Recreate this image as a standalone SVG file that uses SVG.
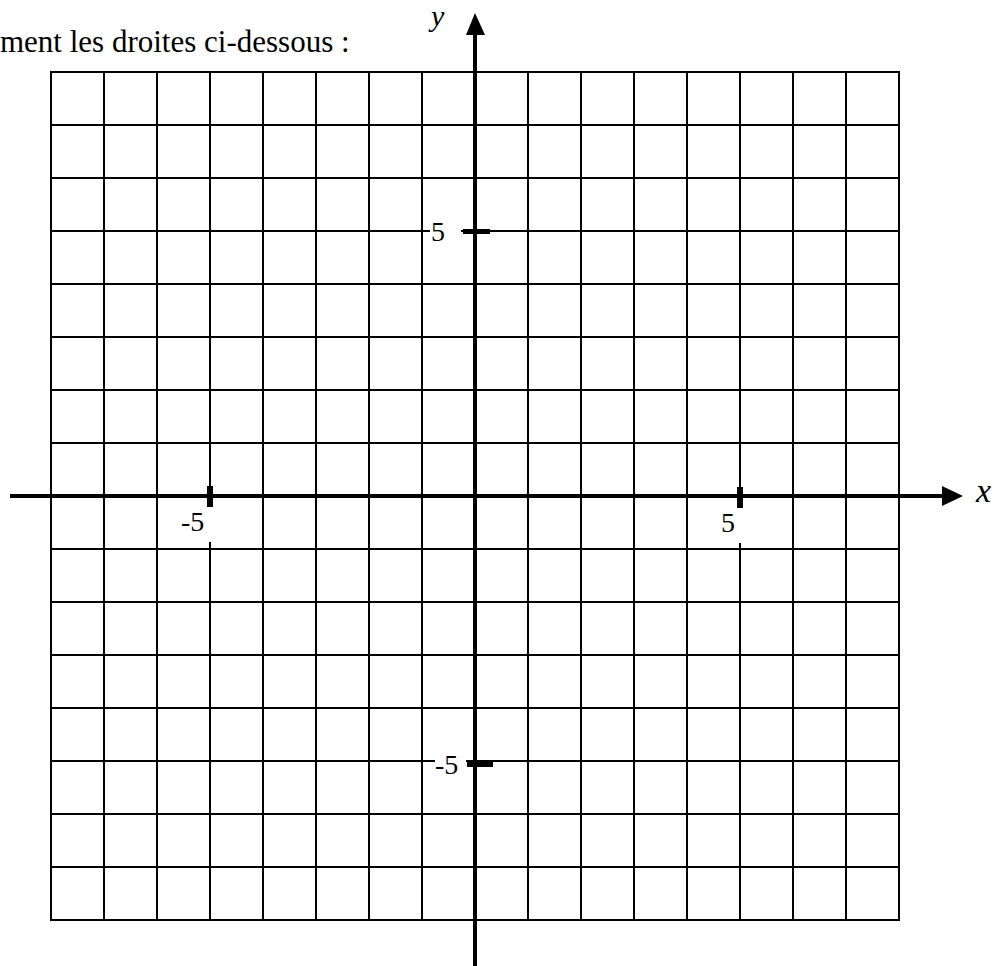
<svg xmlns="http://www.w3.org/2000/svg" width="997" height="966" viewBox="0 0 997 966">
<style>
.grid line{stroke:#000;stroke-width:2}
.axis{stroke:#000;stroke-width:4}
.tick{fill:#000}
.lbl{font-family:"Liberation Serif","Times New Roman",serif;font-size:28px;fill:#000}
.var{font-family:"Liberation Serif","Times New Roman",serif;font-style:italic;fill:#000}
.mask{fill:#fff}
</style>
<rect width="997" height="966" fill="#fff"/>
<text id="title" x="0" y="52" font-family="Liberation Serif, Times New Roman, serif" font-size="31">ment les droites ci-dessous :</text>
<g id="grid" class="grid">
<line x1="51" y1="72" x2="51" y2="920"/>
<line x1="104" y1="72" x2="104" y2="920"/>
<line x1="157" y1="72" x2="157" y2="920"/>
<line x1="210" y1="72" x2="210" y2="920"/>
<line x1="263" y1="72" x2="263" y2="920"/>
<line x1="316" y1="72" x2="316" y2="920"/>
<line x1="369" y1="72" x2="369" y2="920"/>
<line x1="422" y1="72" x2="422" y2="920"/>
<line x1="475" y1="72" x2="475" y2="920"/>
<line x1="528" y1="72" x2="528" y2="920"/>
<line x1="581" y1="72" x2="581" y2="920"/>
<line x1="634" y1="72" x2="634" y2="920"/>
<line x1="687" y1="72" x2="687" y2="920"/>
<line x1="740" y1="72" x2="740" y2="920"/>
<line x1="793" y1="72" x2="793" y2="920"/>
<line x1="846" y1="72" x2="846" y2="920"/>
<line x1="899" y1="72" x2="899" y2="920"/>
<line x1="50" y1="72" x2="900" y2="72"/>
<line x1="50" y1="125" x2="900" y2="125"/>
<line x1="50" y1="178" x2="900" y2="178"/>
<line x1="50" y1="231" x2="900" y2="231"/>
<line x1="50" y1="284" x2="900" y2="284"/>
<line x1="50" y1="337" x2="900" y2="337"/>
<line x1="50" y1="390" x2="900" y2="390"/>
<line x1="50" y1="443" x2="900" y2="443"/>
<line x1="50" y1="496" x2="900" y2="496"/>
<line x1="50" y1="549" x2="900" y2="549"/>
<line x1="50" y1="602" x2="900" y2="602"/>
<line x1="50" y1="655" x2="900" y2="655"/>
<line x1="50" y1="708" x2="900" y2="708"/>
<line x1="50" y1="761" x2="900" y2="761"/>
<line x1="50" y1="814" x2="900" y2="814"/>
<line x1="50" y1="867" x2="900" y2="867"/>
<line x1="50" y1="920" x2="900" y2="920"/>
</g>
<g id="label-masks">
<rect class="mask" x="430" y="217" width="31" height="27"/>
<rect class="mask" x="435" y="749" width="31" height="27"/>
<rect class="mask" x="179" y="507" width="37" height="35"/>
<rect class="mask" x="720" y="507" width="26" height="36"/>
</g>
<g id="axes">
<line class="axis" x1="10" y1="496" x2="944" y2="496"/>
<polygon points="963,496 942,486 942,506" fill="#000"/>
<line class="axis" x1="475" y1="966" x2="475" y2="33"/>
<polygon points="475,13 466,35 485,35" fill="#000"/>
<text class="var" x="976" y="502" font-size="34">x</text>
<text class="var" x="431" y="26" font-size="30">y</text>
</g>
<g id="ticks">
<rect class="tick" x="463" y="229" width="27" height="5"/>
<rect class="tick" x="467" y="761" width="26" height="6"/>
<rect class="tick" x="207" y="486" width="6" height="21"/>
<rect class="tick" x="737" y="487" width="6" height="21"/>
</g>
<g id="labels">
<text class="lbl" x="431" y="241">5</text>
<text class="lbl" x="435" y="774">-5</text>
<text class="lbl" x="181" y="531">-5</text>
<text class="lbl" x="721" y="532">5</text>
</g>
</svg>
